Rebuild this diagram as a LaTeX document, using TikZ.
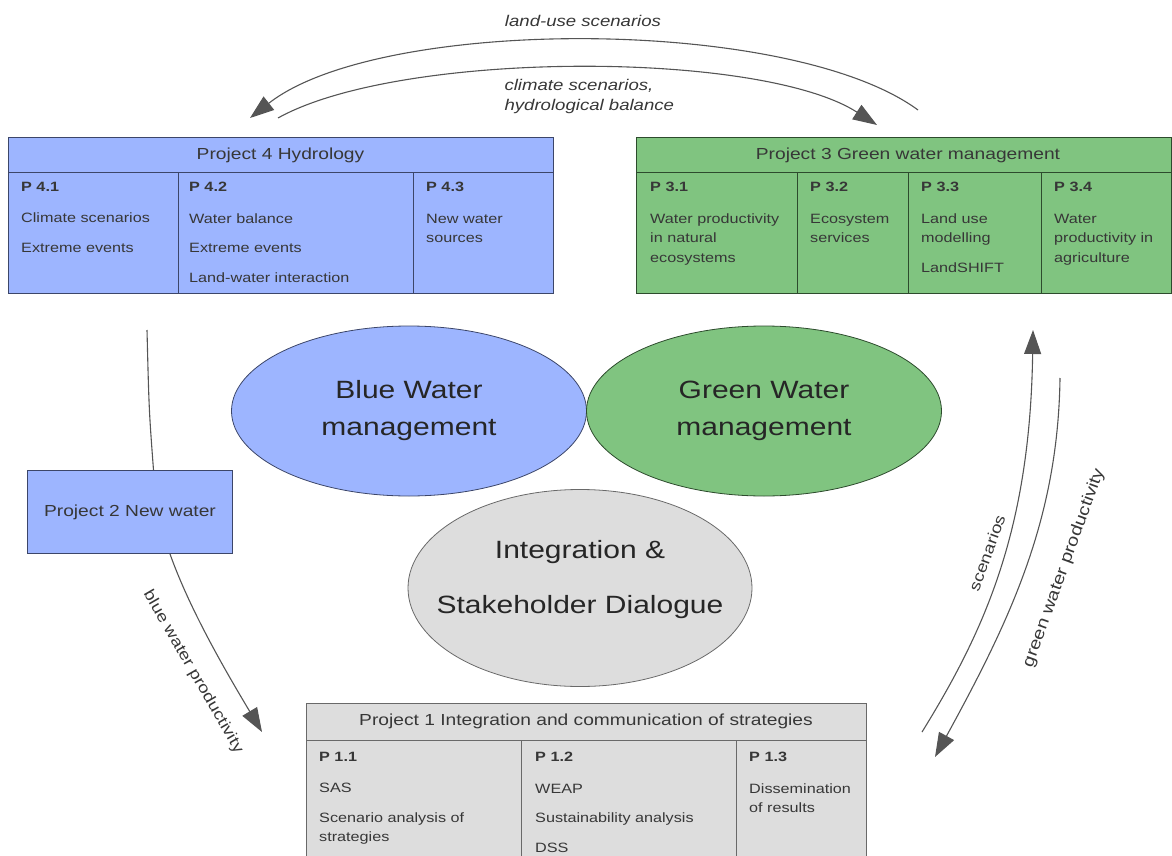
\documentclass[tikz,border=0pt]{standalone}
\usepackage{fontspec}
\setmainfont{Liberation Sans}[FakeStretch=1.2]
\usetikzlibrary{arrows.meta,shapes.geometric}

\definecolor{bluefill}{RGB}{157,181,255}
\definecolor{greenfill}{RGB}{128,196,128}
\definecolor{greyfill}{RGB}{221,221,221}
\definecolor{blueline}{RGB}{60,70,105}
\definecolor{greenline}{RGB}{45,75,45}
\definecolor{greyline}{RGB}{105,105,105}
\definecolor{txt}{RGB}{55,55,55}
\definecolor{arrowgrey}{RGB}{85,85,85}

% vertical divider inside a project box
\newcommand\pdiv[4]{\draw[#1line, line width=1pt] (#2,#3) -- (#2,#4);}

\tikzset{
  pbox/.style={draw=#1line, fill=#1fill, line width=1pt, anchor=north west, inner sep=0pt},
  phead/.style={text=txt, font=\fontsize{16}{19}\selectfont},
  pcol/.style={anchor=north west, inner sep=0pt, align=left, text=txt,
               font=\fontsize{13.5}{19.5}\selectfont},
  ell/.style={ellipse, draw=#1line, fill=#1fill, line width=0.8pt},
  etext/.style={align=center, text=black!85, font=\fontsize{25}{37}\selectfont},
  flow/.style={draw=arrowgrey, line width=1.1pt,
               -{Triangle[length=24pt, width=17pt, fill=arrowgrey]}},
  plain/.style={draw=arrowgrey, line width=1.1pt},
  lab/.style={text=txt, font=\fontsize{15.5}{19}\selectfont}
}

\begin{document}
\begin{tikzpicture}[x=1pt, y=-1pt]
  \useasboundingbox (0,0) rectangle (1172,856);
  \clip (0,0) rectangle (1172,856);

  % project 4, hydrology
  \node[pbox=blue, minimum width=545pt, minimum height=156pt] (p4) at (8,137) {};
  \draw[blueline, line width=1pt] (8,172) -- (553,172);
  \pdiv{blue}{178}{172}{293}
  \pdiv{blue}{413}{172}{293}
  \node[phead] (p4t) at (280.5,155) {Project 4 Hydrology};
  \node[pcol] (p41) at (21,182) {\textbf{P 4.1}\\[12pt]Climate scenarios\\[10pt]Extreme events};
  \node[pcol] (p42) at (189,182) {\textbf{P 4.2}\\[12pt]Water balance\\[10pt]Extreme events\\[10pt]Land-water interaction};
  \node[pcol] (p43) at (426,182) {\textbf{P 4.3}\\[12pt]New water\\sources};

  % project 3, green water
  \node[pbox=green, minimum width=535pt, minimum height=156pt] (p3) at (636,137) {};
  \draw[greenline, line width=1pt] (636,172) -- (1172,172);
  \pdiv{green}{797}{172}{293}
  \pdiv{green}{908}{172}{293}
  \pdiv{green}{1041}{172}{293}
  \node[phead] (p3t) at (908,155) {Project 3 Green water management};
  \node[pcol] (p31) at (650,182) {\textbf{P 3.1}\\[12pt]Water productivity\\in natural\\ecosystems};
  \node[pcol] (p32) at (810,182) {\textbf{P 3.2}\\[12pt]Ecosystem\\services};
  \node[pcol] (p33) at (921,182) {\textbf{P 3.3}\\[12pt]Land use\\modelling\\[10pt]LandSHIFT};
  \node[pcol] (p34) at (1054,182) {\textbf{P 3.4}\\[12pt]Water\\productivity in\\agriculture};

  % project 1, integration
  \node[pbox=grey, minimum width=560pt, minimum height=180pt] (p1) at (306,703) {};
  \draw[greyline, line width=1pt] (306,740) -- (866,740);
  \pdiv{grey}{521}{740}{870}
  \pdiv{grey}{736}{740}{870}
  \node[phead] (p1t) at (586,721) {Project 1 Integration and communication of strategies};
  \node[pcol] (p11) at (319,752) {\textbf{P 1.1}\\[12pt]SAS\\[10pt]Scenario analysis of\\strategies};
  \node[pcol] (p12) at (535,752) {\textbf{P 1.2}\\[12pt]WEAP\\[10pt]Sustainability analysis\\[10pt]DSS};
  \node[pcol] (p13) at (749,752) {\textbf{P 1.3}\\[12pt]Dissemination\\of results};

  % project 2
  \node[pbox=blue, minimum width=205pt, minimum height=83pt] (p2) at (27,470) {};
  \node[phead] (p2t) at (p2.center) {Project 2 New water};

  % the three ellipses
  \node[ell=blue, minimum width=355pt, minimum height=170pt] (bw) at (409,411) {};
  \node[ell=green, minimum width=355pt, minimum height=170pt] (gw) at (764,411) {};
  \node[ell=grey, minimum width=344pt, minimum height=197pt] (isd) at (580,588) {};
  \node[etext] (bwt) at (bw) {Blue Water\\management};
  \node[etext] (gwt) at (gw) {Green Water\\management};
  \node[etext, font=\fontsize{25}{55}\selectfont] (isdt) at (580,580) {Integration \&\\Stakeholder Dialogue};

  % top arcs
  \coordinate (lu1) at (918,110);
  \coordinate (lu2) at (250,118);
  \draw[flow] (lu1) .. controls (790,16) and (380,16) .. (lu2);
  \coordinate (cs1) at (278,118);
  \coordinate (cs2) at (877,125);
  \draw[flow] (cs1) .. controls (400,50) and (760,50) .. (cs2);
  \node[lab, font=\itshape\fontsize{15.5}{19}\selectfont] (lul) at (583,21) {land-use scenarios};
  \node[lab, font=\itshape\fontsize{15.5}{20}\selectfont, align=left, anchor=west] (csl) at (501,96) {climate scenarios,\\hydrological balance};

  % left, blue water productivity
  \coordinate (bw1) at (147,330);
  \draw[plain] (bw1) .. controls (149,410) .. ([xshift=23.5pt]p2.north);
  \coordinate (bw2) at (262,732);
  \draw[flow] ([xshift=40pt]p2.south) .. controls (190,610) and (225,670) .. (bw2);
  \node[lab, rotate=-60] (bwl) at (193,672) {blue water productivity};

  % right, scenarios and green water productivity
  \coordinate (sc1) at (922,732);
  \coordinate (sc2) at (1033,330);
  \draw[flow] (sc1) .. controls (985,630) and (1030,530) .. (sc2);
  \coordinate (gp1) at (1060,378);
  \coordinate (gp2) at (935,757);
  \draw[flow] (gp1) .. controls (1058,520) and (1010,620) .. (gp2);
  \node[lab, rotate=70] (scl) at (987,553) {scenarios};
  \node[lab, rotate=70, font=\fontsize{16.5}{19}\selectfont] (gpl) at (1064,568) {green water productivity};
\end{tikzpicture}
\end{document}
